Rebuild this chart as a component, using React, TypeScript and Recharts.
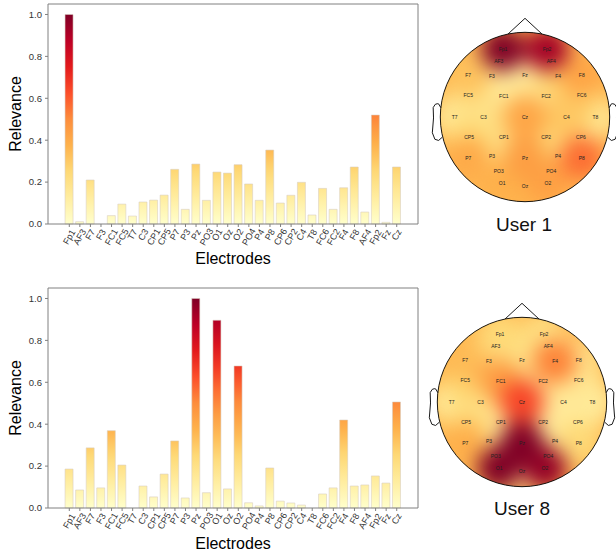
import React from 'react';
import { BarChart, Bar, Cell, XAxis, YAxis, ScatterChart, Scatter } from 'recharts';

const electrodes = [
  'Fp1', 'AF3', 'F7', 'F3', 'FC1', 'FC5', 'T7', 'C3', 'CP1', 'CP5', 'P7', 'P3', 'Pz', 'PO3', 'O1', 'Oz',
  'O2', 'PO4', 'P4', 'P8', 'CP6', 'CP2', 'C4', 'T8', 'FC6', 'FC2', 'F4', 'F8', 'AF4', 'Fp2', 'Fz', 'Cz',
];

const user1Relevance = [
  1.0, 0.011, 0.21, 0, 0.04, 0.095, 0.038, 0.105, 0.114, 0.138, 0.261, 0.07, 0.286, 0.113, 0.248, 0.243,
  0.283, 0.191, 0.113, 0.353, 0.1, 0.137, 0.199, 0.043, 0.17, 0.07, 0.173, 0.272, 0.057, 0.52, 0.008, 0.272,
];

const user8Relevance = [
  0.186, 0.086, 0.287, 0.096, 0.369, 0.205, 0, 0.105, 0.053, 0.162, 0.32, 0.048, 1.0, 0.073, 0.896, 0.091,
  0.678, 0.025, 0.01, 0.191, 0.033, 0.024, 0.014, 0, 0.067, 0.096, 0.42, 0.105, 0.11, 0.153, 0.119, 0.506,
];

const yTicks = [0, 0.2, 0.4, 0.6, 0.8, 1.0];

// electrode positions on the head, nose up, 1 = head radius
const electrodeX = [
  -0.26, -0.31, -0.67, -0.39, -0.25, -0.67, -0.83, -0.49, -0.25, -0.66, -0.67, -0.39, 0, -0.31, -0.27, 0,
  0.27, 0.31, 0.39, 0.67, 0.66, 0.25, 0.49, 0.83, 0.67, 0.25, 0.39, 0.67, 0.31, 0.26, 0, 0,
];
const electrodeY = [
  0.8, 0.66, 0.49, 0.48, 0.25, 0.26, 0, 0, -0.24, -0.24, -0.48, -0.46, -0.48, -0.64, -0.78, -0.82,
  -0.78, -0.64, -0.46, -0.48, -0.24, -0.24, 0, 0, 0.26, 0.25, 0.48, 0.49, 0.66, 0.8, 0.49, 0,
];

const ylOrRd = ['#ffffcc', '#ffeda0', '#fed976', '#feb24c', '#fd8d3c', '#fc4e2a', '#e31a1c', '#bd0026', '#800026'];

const hex = (c: string) => [1, 3, 5].map((i) => parseInt(c.slice(i, i + 2), 16));

function cmap(t: number) {
  const v = Math.max(0, Math.min(1, t)) * (ylOrRd.length - 1);
  const i = Math.min(Math.floor(v), ylOrRd.length - 2);
  const f = v - i;
  const a = hex(ylOrRd[i]);
  const b = hex(ylOrRd[i + 1]);
  const m = a.map((x, k) => Math.round(x + (b[k] - x) * f));
  return `rgb(${m[0]},${m[1]},${m[2]})`;
}

const stopSteps = [0, 0.125, 0.25, 0.375, 0.5, 0.625, 0.75, 0.875, 1];
const axisGrey = '#808080';

const ElectrodeTick = (props: any) => {
  const { x, y, payload } = props;
  const label = String(payload.value);
  const w = label.length * 5.2;
  const h = w * 0.866 + 4.5;
  const cy = y + h / 2 - 1;
  return (
    <text
      x={x}
      y={cy}
      textAnchor="middle"
      dominantBaseline="central"
      fontSize={9}
      fill="#333"
      transform={`rotate(-60 ${x} ${cy})`}
    >
      {label}
    </text>
  );
};

interface BarsProps {
  id: string;
  values: number[];
  height: number;
  top: number;
  axisHeight: number;
}

const RelevanceBars: React.FC<BarsProps> = ({ id, values, height, top, axisHeight }) => {
  const data = electrodes.map((name, i) => ({ name, value: values[i] }));
  return (
    <BarChart
      width={420}
      height={height}
      data={data}
      margin={{ top: top - 1, right: 1, bottom: 0, left: 0 }}
      barCategoryGap="10%"
    >
      <defs>
        {values.map((v, i) => (
          <linearGradient key={i} id={`${id}-g${i}`} x1="0" y1="1" x2="0" y2="0">
            {stopSteps.map((k) => (
              <stop key={k} offset={k} stopColor={cmap(v * k)} />
            ))}
          </linearGradient>
        ))}
      </defs>
      <XAxis
        dataKey="name"
        interval={0}
        padding={{ left: 16, right: 16 }}
        height={axisHeight}
        tick={<ElectrodeTick />}
        tickSize={3}
        tickMargin={2}
        axisLine={{ stroke: axisGrey }}
        tickLine={{ stroke: axisGrey }}
        label={{ value: 'Electrodes', position: 'insideBottom', offset: 6, style: { fontSize: 16, fill: '#000' } }}
      />
      <XAxis
        xAxisId="top"
        orientation="top"
        dataKey="name"
        height={1}
        tick={false}
        tickLine={false}
        axisLine={{ stroke: axisGrey }}
      />
      <YAxis
        domain={[0, 1.05]}
        ticks={yTicks}
        width={48}
        tickSize={3}
        tickMargin={3}
        tick={{ fontSize: 9.5, fill: '#333' }}
        tickFormatter={(v: number) => v.toFixed(1)}
        axisLine={{ stroke: axisGrey }}
        tickLine={{ stroke: axisGrey }}
        label={{
          value: 'Relevance',
          angle: -90,
          position: 'insideLeft',
          offset: 15,
          style: { fontSize: 16, fill: '#000', textAnchor: 'middle' },
        }}
      />
      <YAxis yAxisId="right" orientation="right" width={1} tick={false} tickLine={false} axisLine={{ stroke: axisGrey }} />
      <Bar dataKey="value" isAnimationActive={false} stroke="#d8cdc0" strokeOpacity={0.7} strokeWidth={0.8}>
        {data.map((d, i) => (
          <Cell key={d.name} fill={`url(#${id}-g${i})`} />
        ))}
      </Bar>
    </BarChart>
  );
};

const U = 84.7; // px per head radius
const earX = [0.994, 1.02, 1.036, 1.06, 1.084, 1.08, 1.094, 1.064, 1.02, 0.978];
const earY = [0.111, 0.155, 0.157, 0.149, 0.111, -0.011, -0.186, -0.263, -0.277, -0.24];

interface HeadProps {
  id: string;
  values: number[];
  vmax: number;
  left: number;
  top: number;
}

const HeadMap: React.FC<HeadProps> = ({ id, values, vmax, left, top }) => {
  const topo = (v: number) => cmap(0.14 + 0.86 * Math.pow(Math.min(1, v / vmax), 1.6));
  const pts = electrodes.map((name, i) => ({ name, x: electrodeX[i], y: electrodeY[i], value: values[i] }));
  const blobs = [...pts].sort((a, b) => a.value - b.value);
  const centre = [{ x: 0, y: 0 }];

  const baseShape = (p: any) => (
    <g>
      <defs>
        <clipPath id={`clip-${id}`}>
          <circle cx={p.cx} cy={p.cy} r={U} />
        </clipPath>
        <filter
          id={`blur-${id}`}
          x="-50%"
          y="-50%"
          width="200%"
          height="200%"
          colorInterpolationFilters="sRGB"
        >
          <feGaussianBlur stdDeviation={10} />
        </filter>
      </defs>
      <circle cx={p.cx} cy={p.cy} r={U} fill={cmap(0.36)} />
    </g>
  );

  const outlineShape = (p: any) => {
    const ear = (s: number) =>
      earX.map((ex, k) => `${k === 0 ? 'M' : 'L'}${p.cx + s * ex * U},${p.cy - earY[k] * U}`).join(' ');
    return (
      <g fill="none" stroke="#000" strokeWidth={0.9}>
        <circle cx={p.cx} cy={p.cy} r={U} />
        <path d={`M${p.cx - 0.2 * U},${p.cy - 0.98 * U} L${p.cx},${p.cy - 1.165 * U} L${p.cx + 0.2 * U},${p.cy - 0.98 * U}`} />
        <path d={ear(-1)} />
        <path d={ear(1)} />
      </g>
    );
  };

  return (
    <div style={{ position: 'absolute', left, top }}>
      <ScatterChart width={200} height={200} margin={{ top: 0, right: 0, bottom: 0, left: 0 }}>
        <XAxis type="number" dataKey="x" domain={[-1.18, 1.18]} hide />
        <YAxis type="number" dataKey="y" domain={[-1.18, 1.18]} hide />
        <Scatter data={centre} isAnimationActive={false} shape={baseShape} />
        <Scatter
          data={blobs}
          className={`blobs-${id}`}
          isAnimationActive={false}
          shape={(p: any) => <circle cx={p.cx} cy={p.cy} r={0.26 * U} fill={topo(p.payload.value)} />}
        />
        <Scatter data={centre} isAnimationActive={false} shape={outlineShape} />
        <Scatter
          data={pts}
          isAnimationActive={false}
          shape={(p: any) => (
            <text x={p.cx} y={p.cy} fontSize={5} fill="#222" textAnchor="middle" dominantBaseline="central">
              {p.payload.name}
            </text>
          )}
        />
      </ScatterChart>
    </div>
  );
};

const Title = ({ text, cx, top }: { text: string; cx: number; top: number }) => (
  <div
    style={{
      position: 'absolute',
      left: cx - 50,
      top,
      width: 100,
      textAlign: 'center',
      fontSize: 19,
      lineHeight: '22px',
      color: '#111',
    }}
  >
    {text}
  </div>
);

export default function App() {
  return (
    <div
      style={{
        position: 'relative',
        width: 616,
        height: 555,
        overflow: 'hidden',
        background: '#fff',
        fontFamily: '"Liberation Sans", Arial, sans-serif',
      }}
    >
      <style>{`
        body { margin: 0; }
        .blobs-u1 { filter: url(#blur-u1); clip-path: url(#clip-u1); }
        .blobs-u8 { filter: url(#blur-u8); clip-path: url(#clip-u8); }
      `}</style>
      <div style={{ position: 'absolute', left: 0, top: 0 }}>
        <RelevanceBars id="c1" values={user1Relevance} height={270} top={4} axisHeight={46} />
      </div>
      <div style={{ position: 'absolute', left: 0, top: 280 }}>
        <RelevanceBars id="c8" values={user8Relevance} height={275} top={8} axisHeight={47} />
      </div>
      <HeadMap id="u1" values={user1Relevance} vmax={0.55} left={424.5} top={16.5} />
      <HeadMap id="u8" values={user8Relevance} vmax={0.7} left={421.5} top={301.5} />
      <Title text="User 1" cx={524} top={214} />
      <Title text="User 8" cx={522} top={498} />
    </div>
  );
}
